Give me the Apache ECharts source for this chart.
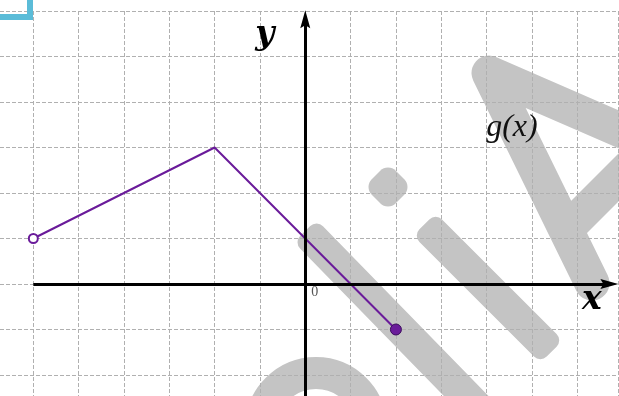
<!DOCTYPE html>
<html>
<head>
<meta charset="utf-8">
<script src="https://cdn.jsdelivr.net/npm/echarts@6/dist/echarts.min.js"></script>
<style>
  html, body { margin: 0; padding: 0; background: #fff; }
  #chart { width: 619px; height: 396px; }
</style>
</head>
<body>
<div id="chart"></div>
<script>
// g(x): piecewise linear, open at x=-6, closed at x=2
const xValues = [-6, -2, 2];
const gValues = [1, 3, -1];
const pointKinds = ["open", "none", "closed"];

const xRange = [-7, 6.9];
const yRange = [-3, 6];

const purple = "#6a1b9a";
const watermarkGrey = "#c4c4c4";

const chart = echarts.init(document.getElementById("chart"));

const pointStyle = (kind) => {
  if (kind === "open") {
    return { symbol: "circle", symbolSize: 9, itemStyle: { color: "#fff", borderColor: purple, borderWidth: 2 } };
  }
  if (kind === "closed") {
    return { symbol: "circle", symbolSize: 11, itemStyle: { color: purple, borderColor: "#3b0d5c", borderWidth: 1 } };
  }
  return { symbol: "none" };
};

const arrowPath = "path://M5,0 L10,18 L5,15 L0,18 Z";

const dashed = { color: "#b0b0b0", width: 1, type: [4, 2] };

chart.setOption({
  animation: false,
  grid: { left: -12, top: 11, width: 630, height: 409.5, outerBoundsMode: "none", containLabel: false },
  xAxis: {
    type: "value",
    min: xRange[0],
    max: xRange[1],
    interval: 1,
    axisLine: { show: false },
    axisTick: { show: false },
    axisLabel: { show: false },
    splitLine: { show: true, lineStyle: dashed },
  },
  yAxis: {
    type: "value",
    min: yRange[0],
    max: yRange[1],
    interval: 1,
    axisLine: { show: false },
    axisTick: { show: false },
    axisLabel: { show: false },
    splitLine: { show: true, lineStyle: dashed },
  },
  series: [
    {
      // the two coordinate axes with arrows
      type: "line",
      data: [],
      z: 1,
      markLine: {
        silent: true,
        animation: false,
        symbol: "none",
        label: { show: false },
        emphasis: { disabled: true },
        lineStyle: { color: "#000", width: 3, type: "solid" },
        data: [
          [{ coord: [-6, 0], symbol: "none" }, { coord: [6.71, 0], symbol: arrowPath, symbolSize: [10, 18] }],
          [{ coord: [0, -3], symbol: "none" }, { coord: [0, 5.82], symbol: arrowPath, symbolSize: [10, 18] }],
        ],
      },
    },
    {
      name: "g(x)",
      type: "line",
      z: 3,
      lineStyle: { color: purple, width: 2 },
      itemStyle: { color: purple },
      data: xValues.map((x, i) => Object.assign({ value: [x, gValues[i]] }, pointStyle(pointKinds[i]))),
    },
  ],
});

const px = (x, y) => chart.convertToPixel({ gridIndex: 0 }, [x, y]);

const textEl = (text, pos, font, fill) => ({
  type: "text",
  x: pos[0],
  y: pos[1],
  z: 10,
  style: { text: text, font: font, fill: fill, align: "center", verticalAlign: "middle" },
});

const yLab = px(-0.89, 5.47);
const xLab = px(6.32, -0.35);
const gLab = px(4.56, 3.43);
const zeroLab = px(0.21, -0.18);

chart.setOption({
  graphic: {
    elements: [
      // watermark behind the grid
      { type: "rect", z: -1, x: 396, y: 324, rotation: -0.798,
        shape: { x: -130, y: -16, width: 260, height: 32, r: 9 }, style: { fill: watermarkGrey } },
      { type: "rect", z: -1, x: 488, y: 288, rotation: -Math.PI / 4,
        shape: { x: -90, y: -16, width: 180, height: 32, r: 9 }, style: { fill: watermarkGrey } },
      { type: "rect", z: -1, x: 388, y: 187, rotation: Math.PI / 4,
        shape: { x: -17, y: -17, width: 34, height: 34, r: 11 }, style: { fill: watermarkGrey } },
      { type: "polyline", z: -1, shape: { points: [[592, 283], [489, 73], [650, 143]] },
        style: { stroke: watermarkGrey, lineWidth: 35, lineJoin: "round", lineCap: "round", fill: null } },
      { type: "line", z: -1, shape: { x1: 566, y1: 230, x2: 645, y2: 151 },
        style: { stroke: watermarkGrey, lineWidth: 34 } },
      { type: "arc", z: -1, shape: { cx: 316, cy: 428, r: 55, startAngle: Math.PI, endAngle: 2 * Math.PI },
        style: { stroke: watermarkGrey, lineWidth: 32, fill: null } },
      // corner bracket
      { type: "polyline", z: 10, shape: { points: [[0, 17], [30, 17], [30, 0]] },
        style: { stroke: "#5bbcd8", lineWidth: 6, fill: null } },
      // labels
      textEl("y", yLab, "italic bold 33px 'DejaVu Serif'", "#000"),
      textEl("x", xLab, "italic bold 33px 'DejaVu Serif'", "#000"),
      textEl("g(x)", gLab, "italic 32px 'Liberation Serif'", "#111"),
      textEl("0", zeroLab, "14px 'Liberation Serif'", "#555"),
    ],
  },
});
</script>
</body>
</html>
